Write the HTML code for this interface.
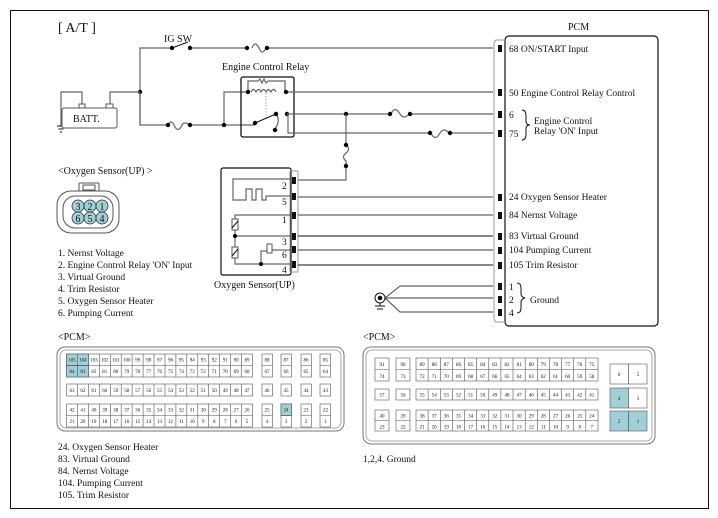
<!DOCTYPE html>
<html><head><meta charset="utf-8"><style>
body{margin:0;background:#fff}
svg{display:block}
text{font-family:"Liberation Serif",serif;fill:#111}
.n{font-size:5px;text-anchor:middle;fill:#333}
.w{stroke:#666;stroke-width:1.2;fill:none}
.k{stroke:#111;stroke-width:1;fill:none}
.c{fill:#fff;stroke:#555;stroke-width:.6}
.h{fill:#9fd0d8;stroke:#555;stroke-width:.6}
</style></head><body>
<svg width="718" height="518" viewBox="0 0 718 518" xmlns="http://www.w3.org/2000/svg">
<rect x="10.5" y="10.5" width="698" height="498" fill="none" stroke="#111" stroke-width="1"/>
<text x="58" y="32" font-size="14">[ A/T ]</text>

<path class="w" d="M140 125 V48 H172 M190 48 H247 M267 48 H493"/>
<path class="k" d="M172 48 L188 42"/>
<path class="w" d="M252 48 q3 -8 7 0 q3 8 7 0"/>
<circle cx="172" cy="48" r="2.2"/><circle cx="190" cy="48" r="2.2"/><circle cx="247" cy="48" r="2.2"/><circle cx="267" cy="48" r="2.2"/>
<text x="164" y="42" font-size="10">IG SW</text>
<circle cx="140" cy="92" r="2.2"/>
<path class="w" d="M110 108 V92 H140 M82 108 V92 H61 V126"/>
<path class="k" d="M57 126 h8 M58.5 129 h5 M60 132 h2"/>
<rect x="62" y="108" width="55" height="20" rx="2" fill="#fff" stroke="#555"/>
<rect x="79" y="104" width="6" height="4" fill="#fff" stroke="#555"/>
<rect x="106" y="104" width="7" height="4" fill="#fff" stroke="#555"/>
<text x="73" y="122" font-size="10">BATT.</text>
<path class="w" d="M140 92 V125 H168 M190 125 H255 M224 125 V92 H248"/>
<path class="w" d="M168 125 q3 -6 6 0 q4 9 8 0 q2 -4 8 0"/>
<circle cx="168" cy="125" r="2.2"/><circle cx="190" cy="125" r="2.2"/><circle cx="224" cy="125" r="2.2"/>
<text x="222" y="70" font-size="10">Engine Control Relay</text>
<rect x="241" y="77" width="53" height="60" rx="2" fill="none" stroke="#111" stroke-width="1.3"/>
<path class="w" d="M248 92 V81 H258 l2 -2 l2 4 l2 -4 l2 4 l2 -2 H285 V92"/>
<path class="w" d="M251 92 q2.5 -5 5 0 q2.5 -5 5 0 q2.5 -5 5 0 q2.5 -5 5 0 q2.5 -5 5 0"/>
<path d="M266 93 V118" stroke="#888" stroke-width=".7" stroke-dasharray="1.5 1.5"/>
<path class="w" d="M286 92 H493"/>
<circle cx="248" cy="92" r="2.2"/><circle cx="286" cy="92" r="2.2"/>
<path class="k" d="M255 123 L276 114"/>
<path class="w" d="M276 114 q5 6 -1 15"/>
<circle cx="255" cy="123" r="2.2"/><circle cx="276" cy="114" r="2.2"/><circle cx="275" cy="130" r="2.2"/><circle cx="287" cy="114" r="2.2"/>
<path class="w" d="M287 114 H390 M410 114 H493 M288 114 V133 H430 M450 133 H493"/>
<path class="w" d="M391 114 q4 -9 9 0 q4 6 9 0"/>
<path class="w" d="M431 133 q4 9 9 0 q4 -6 9 0"/>
<circle cx="390" cy="114" r="2.2"/><circle cx="410" cy="114" r="2.2"/><circle cx="430" cy="133" r="2.2"/><circle cx="450" cy="133" r="2.2"/><circle cx="346" cy="114" r="2.2"/>
<path class="w" d="M346 114 V145 q5 4 0 8 q-5 4 0 8 V180 H298"/>
<circle cx="346" cy="145" r="2.2"/><circle cx="346" cy="166" r="2.2"/>

<text x="568" y="30" font-size="10">PCM</text>
<rect x="505" y="36" width="153" height="290" rx="4" fill="none" stroke="#111" stroke-width="1.2"/>
<path d="M505 40 H497 Q494 40 494 44 V318 Q494 322 497 322 H505" fill="none" stroke="#999"/>
<g fill="#111">
<rect x="498" y="45" width="4" height="7"/><rect x="498" y="89" width="4" height="7"/><rect x="498" y="111" width="4" height="7"/><rect x="498" y="130" width="4" height="7"/>
<rect x="498" y="194" width="4" height="7"/><rect x="498" y="212" width="4" height="7"/><rect x="498" y="233" width="4" height="7"/><rect x="498" y="247" width="4" height="7"/><rect x="498" y="262" width="4" height="7"/>
<rect x="498" y="283" width="4" height="7"/><rect x="498" y="296" width="4" height="7"/><rect x="498" y="309" width="4" height="7"/>
</g>
<g font-size="9.5">
<text x="509" y="52">68  ON/START Input</text>
<text x="509" y="96">50 Engine Control Relay Control</text>
<text x="509" y="118">6</text><text x="509" y="137">75</text>
<text x="534" y="124">Engine Control</text><text x="534" y="134">Relay 'ON' Input</text>
<text x="509" y="200">24 Oxygen Sensor Heater</text>
<text x="509" y="218">84 Nernst Voltage</text>
<text x="509" y="239">83 Virtual Ground</text>
<text x="509" y="253">104 Pumping Current</text>
<text x="509" y="268">105 Trim Resistor</text>
<text x="509" y="290">1</text><text x="509" y="303">2</text><text x="509" y="316">4</text>
<text x="530" y="303">Ground</text>
</g>
<path class="k" d="M522 110 q4 0 4 6 v5 q0 4 4 4 q-4 0 -4 4 v5 q0 6 -4 6"/>
<path class="k" d="M517 283 q4 0 4 5 v6 q0 3 4 4 q-4 1 -4 4 v6 q0 5 -4 5" stroke-width=".8"/>

<rect x="221" y="168" width="70" height="107" rx="2" fill="none" stroke="#111" stroke-width="1.2"/>
<rect x="290" y="171" width="8" height="101" fill="none" stroke="#999"/>
<g fill="#111"><rect x="292" y="177" width="4" height="7"/><rect x="292" y="193" width="4" height="7"/><rect x="292" y="212" width="4" height="7"/><rect x="292" y="233" width="4" height="7"/><rect x="292" y="246" width="4" height="7"/><rect x="292" y="261" width="4" height="7"/></g>
<g font-size="9.5"><text x="282" y="189">2</text><text x="282" y="205">5</text><text x="282" y="223">1</text><text x="282" y="245">3</text><text x="282" y="258">6</text><text x="282" y="273">4</text></g>
<path class="w" d="M290 179 H233 V200 H246 V189 H252 V200 H256 V189 H262 V200 H266 V196 H290"/>
<path class="w" d="M290 215 H235 V236 H290 M235 236 V264 H261 V251 H267 M272 250 H290 M261 264 H290"/>
<rect x="232" y="219" width="6" height="11" fill="#fff" stroke="#555"/><rect x="232" y="247" width="6" height="11" fill="#fff" stroke="#555"/>
<path class="k" d="M232 228 l6 -7 M232 256 l6 -7" stroke-width=".6"/>
<rect x="267" y="244" width="5" height="9" fill="#fff" stroke="#555"/>
<circle cx="235" cy="236" r="2"/><circle cx="261" cy="264" r="2"/>
<text x="214" y="288" font-size="10">Oxygen Sensor(UP)</text>
<path class="w" d="M298 197 H493 M298 215 H493 M298 250 H493" />
<path class="k" d="M298 236 H493 M298 265 H493"/>
<path class="w" d="M385 298 L400 286 H493 M385 298 H493 M385 298 L400 312 H493" stroke-width=".9"/>
<circle cx="380" cy="298" r="5" fill="#fff" stroke="#111"/><circle cx="380" cy="298" r="2.3" fill="#111"/>
<path class="k" d="M380 303 V306 M375 306 h10 M377 309 h6"/>

<text x="58" y="174" font-size="10">&lt;Oxygen Sensor(UP)   &gt;</text>
<rect x="79" y="183" width="20" height="8" rx="1" fill="#fff" stroke="#555"/>
<rect x="83" y="185" width="12" height="5" fill="#fff" stroke="#555"/>
<rect x="57" y="191" width="62" height="42" rx="14" fill="#fff" stroke="#555"/>
<rect x="63" y="196" width="50" height="32" rx="12" fill="#fff" stroke="#555"/>
<g fill="#9fd0d8" stroke="#333" stroke-width=".8">
<circle cx="78" cy="206" r="6"/><circle cx="90" cy="206" r="6"/><circle cx="102" cy="206" r="6"/>
<circle cx="78" cy="218" r="6"/><circle cx="90" cy="218" r="6"/><circle cx="102" cy="218" r="6"/></g>
<g font-size="10" text-anchor="middle"><text x="78" y="210">3</text><text x="90" y="210">2</text><text x="102" y="210">1</text><text x="78" y="222">6</text><text x="90" y="222">5</text><text x="102" y="222">4</text></g>
<g font-size="9.5"><text x="58" y="256">1. Nernst Voltage</text><text x="58" y="268">2. Engine Control Relay 'ON' Input</text><text x="58" y="280">3. Virtual Ground</text><text x="58" y="292">4. Trim Resistor</text><text x="58" y="304">5.  Oxygen Sensor Heater</text><text x="58" y="316">6. Pumping Current</text></g>

<text x="58" y="340" font-size="10">&lt;PCM&gt;</text>
<rect x="57" y="347" width="287" height="84" rx="8" fill="#fff" stroke="#777"/>
<rect x="60" y="350" width="281" height="78" rx="6" fill="none" stroke="#aaa"/>
<g>
<rect class="c" x="66.5" y="354" width="186" height="23"/><rect class="c" x="66.5" y="384" width="186" height="12"/><rect class="c" x="66.5" y="404" width="186" height="23"/>
<rect class="h" x="66.5" y="354" width="21.9" height="11.5"/><rect class="h" x="66.5" y="365.5" width="21.9" height="11.5"/>
<path stroke="#555" stroke-width=".6" d="M66.5 365.5H252.5M66.5 415.5H252.5 M77.4 354V377M88.4 354V377M99.3 354V377M110.3 354V377M121.2 354V377M132.1 354V377M143.1 354V377M154 354V377M165 354V377M175.9 354V377M186.8 354V377M197.8 354V377M208.7 354V377M219.7 354V377M230.6 354V377M241.5 354V377 M77.4 384V396M88.4 384V396M99.3 384V396M110.3 384V396M121.2 384V396M132.1 384V396M143.1 384V396M154 384V396M165 384V396M175.9 384V396M186.8 384V396M197.8 384V396M208.7 384V396M219.7 384V396M230.6 384V396M241.5 384V396 M77.4 404V427M88.4 404V427M99.3 404V427M110.3 404V427M121.2 404V427M132.1 404V427M143.1 404V427M154 404V427M165 404V427M175.9 404V427M186.8 404V427M197.8 404V427M208.7 404V427M219.7 404V427M230.6 404V427M241.5 404V427"/>
<rect class="c" x="262" y="354" width="10.5" height="23"/><rect class="c" x="281" y="354" width="10.5" height="23"/><rect class="c" x="301" y="354" width="10.5" height="23"/><rect class="c" x="320" y="354" width="10.5" height="23"/>
<rect class="c" x="262" y="384" width="10.5" height="12"/><rect class="c" x="281" y="384" width="10.5" height="12"/><rect class="c" x="301" y="384" width="10.5" height="12"/><rect class="c" x="320" y="384" width="10.5" height="12"/>
<rect class="c" x="262" y="404" width="10.5" height="23"/><rect class="c" x="281" y="404" width="10.5" height="23"/><rect class="c" x="301" y="404" width="10.5" height="23"/><rect class="c" x="320" y="404" width="10.5" height="23"/>
<rect class="h" x="281" y="404" width="10.5" height="11.5"/>
<path stroke="#555" stroke-width=".6" d="M262 365.5h10.5M281 365.5h10.5M301 365.5h10.5M320 365.5h10.5M262 415.5h10.5M281 415.5h10.5M301 415.5h10.5M320 415.5h10.5"/>
</g>
<g class="n">
<text x="72" y="361.5">105</text><text x="82.9" y="361.5">104</text><text x="93.9" y="361.5">103</text><text x="104.8" y="361.5">102</text><text x="115.8" y="361.5">101</text><text x="126.7" y="361.5">100</text><text x="137.6" y="361.5">99</text><text x="148.6" y="361.5">98</text><text x="159.5" y="361.5">97</text><text x="170.5" y="361.5">96</text><text x="181.4" y="361.5">95</text><text x="192.3" y="361.5">94</text><text x="203.3" y="361.5">93</text><text x="214.2" y="361.5">92</text><text x="225.2" y="361.5">91</text><text x="236.1" y="361.5">90</text><text x="247" y="361.5">89</text>
<text x="267" y="361.5">88</text><text x="286" y="361.5">87</text><text x="306" y="361.5">86</text><text x="325.5" y="361.5">85</text>
<text x="72" y="373">84</text><text x="82.9" y="373">83</text><text x="93.9" y="373">82</text><text x="104.8" y="373">81</text><text x="115.8" y="373">80</text><text x="126.7" y="373">79</text><text x="137.6" y="373">78</text><text x="148.6" y="373">77</text><text x="159.5" y="373">76</text><text x="170.5" y="373">75</text><text x="181.4" y="373">74</text><text x="192.3" y="373">73</text><text x="203.3" y="373">72</text><text x="214.2" y="373">71</text><text x="225.2" y="373">70</text><text x="236.1" y="373">69</text><text x="247" y="373">68</text>
<text x="267" y="373">67</text><text x="286" y="373">66</text><text x="306" y="373">65</text><text x="325.5" y="373">64</text>
<text x="72" y="392">63</text><text x="82.9" y="392">62</text><text x="93.9" y="392">61</text><text x="104.8" y="392">60</text><text x="115.8" y="392">59</text><text x="126.7" y="392">58</text><text x="137.6" y="392">57</text><text x="148.6" y="392">56</text><text x="159.5" y="392">55</text><text x="170.5" y="392">54</text><text x="181.4" y="392">53</text><text x="192.3" y="392">52</text><text x="203.3" y="392">51</text><text x="214.2" y="392">50</text><text x="225.2" y="392">49</text><text x="236.1" y="392">48</text><text x="247" y="392">47</text>
<text x="267" y="392">46</text><text x="286" y="392">45</text><text x="306" y="392">44</text><text x="325.5" y="392">43</text>
<text x="72" y="411.5">42</text><text x="82.9" y="411.5">41</text><text x="93.9" y="411.5">40</text><text x="104.8" y="411.5">39</text><text x="115.8" y="411.5">38</text><text x="126.7" y="411.5">37</text><text x="137.6" y="411.5">36</text><text x="148.6" y="411.5">35</text><text x="159.5" y="411.5">34</text><text x="170.5" y="411.5">33</text><text x="181.4" y="411.5">32</text><text x="192.3" y="411.5">31</text><text x="203.3" y="411.5">30</text><text x="214.2" y="411.5">29</text><text x="225.2" y="411.5">28</text><text x="236.1" y="411.5">27</text><text x="247" y="411.5">26</text>
<text x="267" y="411.5">25</text><text x="286" y="411.5">24</text><text x="306" y="411.5">23</text><text x="325.5" y="411.5">22</text>
<text x="72" y="423">21</text><text x="82.9" y="423">20</text><text x="93.9" y="423">19</text><text x="104.8" y="423">18</text><text x="115.8" y="423">17</text><text x="126.7" y="423">16</text><text x="137.6" y="423">15</text><text x="148.6" y="423">14</text><text x="159.5" y="423">13</text><text x="170.5" y="423">12</text><text x="181.4" y="423">11</text><text x="192.3" y="423">10</text><text x="203.3" y="423">9</text><text x="214.2" y="423">8</text><text x="225.2" y="423">7</text><text x="236.1" y="423">6</text><text x="247" y="423">5</text>
<text x="267" y="423">4</text><text x="286" y="423">3</text><text x="306" y="423">2</text><text x="325.5" y="423">1</text>
</g>
<g font-size="9.5"><text x="58" y="450">24.  Oxygen Sensor Heater</text><text x="58" y="462">83. Virtual Ground</text><text x="58" y="474">84. Nernst Voltage</text><text x="58" y="486">104. Pumping Current</text><text x="58" y="498">105. Trim Resistor</text></g>

<text x="363" y="340" font-size="10">&lt;PCM&gt;</text>
<rect x="363" y="347" width="292" height="97" rx="8" fill="#fff" stroke="#777"/>
<rect x="366" y="350" width="286" height="91" rx="6" fill="none" stroke="#aaa"/>
<rect class="c" x="375" y="358" width="14" height="23"/><rect class="c" x="396" y="358" width="14" height="23"/><rect class="c" x="416" y="358" width="182" height="23"/>
<rect class="c" x="375" y="389" width="14" height="11"/><rect class="c" x="396" y="389" width="14" height="11"/><rect class="c" x="416" y="389" width="182" height="11"/>
<rect class="c" x="375" y="410" width="14" height="21"/><rect class="c" x="396" y="410" width="14" height="21"/><rect class="c" x="416" y="410" width="182" height="21"/>
<path stroke="#555" stroke-width=".6" d="M375 369.5h14M396 369.5h14M416 369.5H598M375 420.5h14M396 420.5h14M416 420.5H598 M428.1 358V381M440.3 358V381M452.4 358V381M464.5 358V381M476.7 358V381M488.8 358V381M500.9 358V381M513 358V381M525.2 358V381M537.3 358V381M549.4 358V381M561.6 358V381M573.7 358V381M585.8 358V381 M428.1 389V400M440.3 389V400M452.4 389V400M464.5 389V400M476.7 389V400M488.8 389V400M500.9 389V400M513 389V400M525.2 389V400M537.3 389V400M549.4 389V400M561.6 389V400M573.7 389V400M585.8 389V400 M428.1 410V431M440.3 410V431M452.4 410V431M464.5 410V431M476.7 410V431M488.8 410V431M500.9 410V431M513 410V431M525.2 410V431M537.3 410V431M549.4 410V431M561.6 410V431M573.7 410V431M585.8 410V431"/>
<rect class="c" x="610" y="364" width="18.5" height="20"/><rect class="c" x="628.5" y="364" width="18.5" height="20"/>
<rect class="h" x="610" y="388" width="18.5" height="20"/><rect class="c" x="628.5" y="388" width="18.5" height="20"/>
<rect class="h" x="610" y="411" width="18.5" height="20"/><rect class="h" x="628.5" y="411" width="18.5" height="20"/>
<g class="n">
<text x="382" y="366">91</text><text x="403" y="366">90</text>
<text x="422.1" y="366">89</text><text x="434.2" y="366">88</text><text x="446.3" y="366">87</text><text x="458.5" y="366">86</text><text x="470.6" y="366">85</text><text x="482.7" y="366">84</text><text x="494.8" y="366">83</text><text x="507" y="366">82</text><text x="519.1" y="366">81</text><text x="531.2" y="366">80</text><text x="543.3" y="366">79</text><text x="555.5" y="366">78</text><text x="567.6" y="366">77</text><text x="579.7" y="366">76</text><text x="591.8" y="366">75</text>
<text x="382" y="378">74</text><text x="403" y="378">73</text>
<text x="422.1" y="378">72</text><text x="434.2" y="378">71</text><text x="446.3" y="378">70</text><text x="458.5" y="378">69</text><text x="470.6" y="378">68</text><text x="482.7" y="378">67</text><text x="494.8" y="378">66</text><text x="507" y="378">65</text><text x="519.1" y="378">64</text><text x="531.2" y="378">63</text><text x="543.3" y="378">62</text><text x="555.5" y="378">61</text><text x="567.6" y="378">60</text><text x="579.7" y="378">59</text><text x="591.8" y="378">58</text>
<text x="382" y="396.5">57</text><text x="403" y="396.5">56</text>
<text x="422.1" y="396.5">55</text><text x="434.2" y="396.5">54</text><text x="446.3" y="396.5">53</text><text x="458.5" y="396.5">52</text><text x="470.6" y="396.5">51</text><text x="482.7" y="396.5">50</text><text x="494.8" y="396.5">49</text><text x="507" y="396.5">48</text><text x="519.1" y="396.5">47</text><text x="531.2" y="396.5">46</text><text x="543.3" y="396.5">45</text><text x="555.5" y="396.5">44</text><text x="567.6" y="396.5">43</text><text x="579.7" y="396.5">42</text><text x="591.8" y="396.5">41</text>
<text x="382" y="417.5">40</text><text x="403" y="417.5">39</text>
<text x="422.1" y="417.5">38</text><text x="434.2" y="417.5">37</text><text x="446.3" y="417.5">36</text><text x="458.5" y="417.5">35</text><text x="470.6" y="417.5">34</text><text x="482.7" y="417.5">33</text><text x="494.8" y="417.5">32</text><text x="507" y="417.5">31</text><text x="519.1" y="417.5">30</text><text x="531.2" y="417.5">29</text><text x="543.3" y="417.5">28</text><text x="555.5" y="417.5">27</text><text x="567.6" y="417.5">26</text><text x="579.7" y="417.5">25</text><text x="591.8" y="417.5">24</text>
<text x="382" y="428.5">23</text><text x="403" y="428.5">22</text>
<text x="422.1" y="428.5">21</text><text x="434.2" y="428.5">20</text><text x="446.3" y="428.5">19</text><text x="458.5" y="428.5">18</text><text x="470.6" y="428.5">17</text><text x="482.7" y="428.5">16</text><text x="494.8" y="428.5">15</text><text x="507" y="428.5">14</text><text x="519.1" y="428.5">13</text><text x="531.2" y="428.5">12</text><text x="543.3" y="428.5">11</text><text x="555.5" y="428.5">10</text><text x="567.6" y="428.5">9</text><text x="579.7" y="428.5">8</text><text x="591.8" y="428.5">7</text>
<text x="619" y="376">6</text><text x="638" y="376">5</text><text x="619" y="400">4</text><text x="638" y="400">3</text><text x="619" y="423">2</text><text x="638" y="423">1</text>
</g>
<text x="363" y="462" font-size="9.5">1,2,4. Ground</text>
</svg>
</body></html>
